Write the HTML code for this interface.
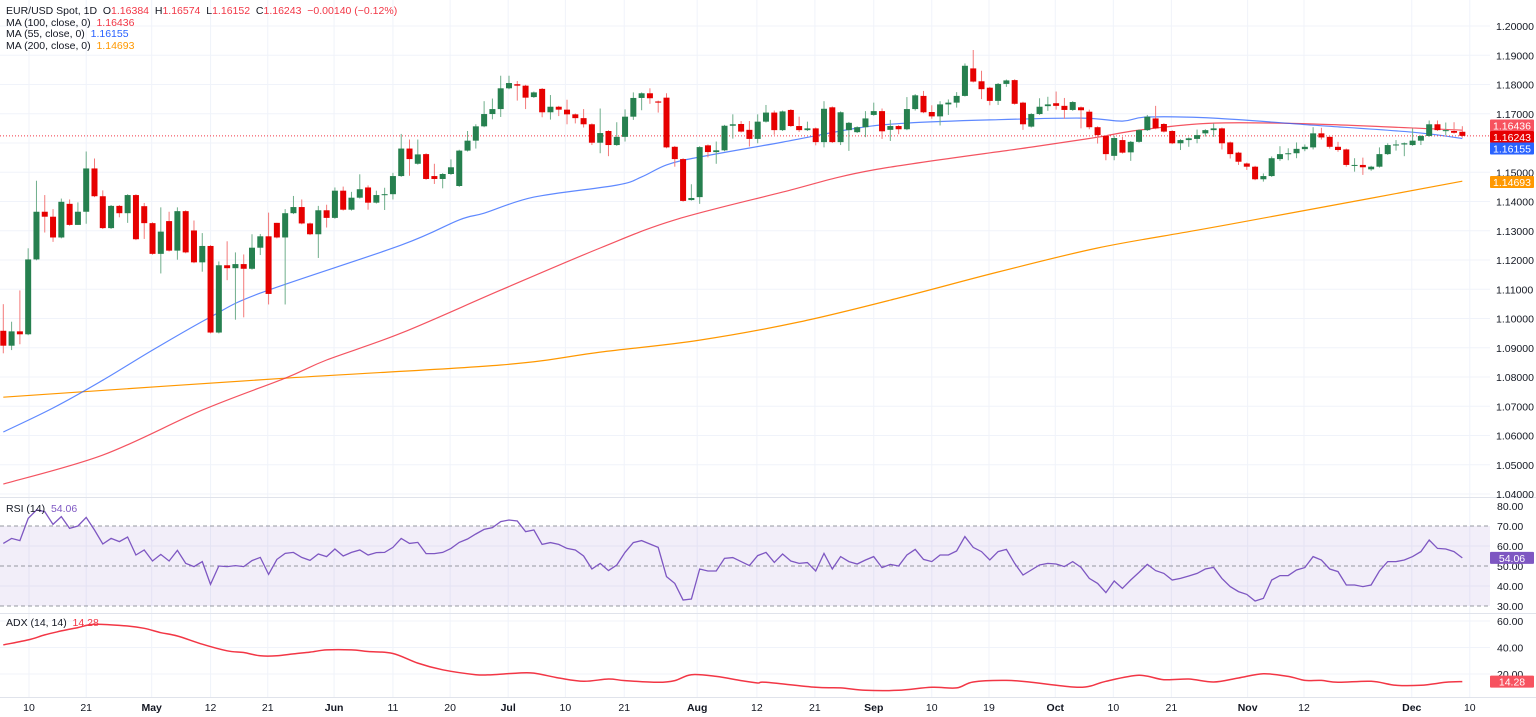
<!DOCTYPE html>
<html><head><meta charset="utf-8">
<style>
html,body{margin:0;padding:0;background:#fff;}
body{width:1536px;height:717px;overflow:hidden;position:relative;font-family:"Liberation Sans",sans-serif;}
svg{position:absolute;left:0;top:0;}
svg text{font-family:"Liberation Sans",sans-serif;}
.leg{position:absolute;left:6px;font-size:10.5px;color:#131722;white-space:nowrap;line-height:12px;}
</style></head>
<body>
<svg id="chart" width="1536" height="717" viewBox="0 0 1536 717"></svg>
<div class="leg" style="top:5px">EUR/USD Spot, 1D&nbsp; <span style="color:#131722">O</span><span style="color:#f23645">1.16384</span>&nbsp; H<span style="color:#f23645">1.16574</span>&nbsp; L<span style="color:#f23645">1.16152</span>&nbsp; C<span style="color:#f23645">1.16243</span>&nbsp; <span style="color:#f23645">−0.00140 (−0.12%)</span></div>
<div class="leg" style="top:17px">MA (100, close, 0)&nbsp; <span style="color:#f23645">1.16436</span></div>
<div class="leg" style="top:28px">MA (55, close, 0)&nbsp; <span style="color:#2962ff">1.16155</span></div>
<div class="leg" style="top:40px">MA (200, close, 0)&nbsp; <span style="color:#ff9800">1.14693</span></div>
<div class="leg" style="top:503px">RSI (14)&nbsp; <span style="color:#7e57c2">54.06</span></div>
<div class="leg" style="top:617px">ADX (14, 14)&nbsp; <span style="color:#f23645">14.28</span></div>
<script>
const opens=[1.0958,1.0907,1.0956,1.0946,1.1202,1.1365,1.1348,1.1277,1.1392,1.1320,1.1365,1.1513,1.1418,1.1309,1.1385,1.1360,1.1422,1.1384,1.1326,1.1221,1.1333,1.1232,1.1367,1.1301,1.1192,1.1248,1.0952,1.1182,1.1172,1.1186,1.1170,1.1242,1.1281,1.1327,1.1277,1.1360,1.1381,1.1325,1.1288,1.1370,1.1344,1.1437,1.1372,1.1413,1.1448,1.1396,1.1422,1.1425,1.1487,1.1581,1.1529,1.1562,1.1487,1.1477,1.1494,1.1453,1.1574,1.1608,1.1657,1.1699,1.1716,1.1787,1.1801,1.1796,1.1757,1.1785,1.1705,1.1724,1.1714,1.1698,1.1685,1.1664,1.1601,1.1641,1.1593,1.1621,1.1690,1.1754,1.1770,1.1742,1.1755,1.1587,1.1545,1.1405,1.1415,1.1592,1.1569,1.1575,1.1659,1.1665,1.1645,1.1614,1.1673,1.1704,1.1644,1.1713,1.1658,1.1644,1.1650,1.1603,1.1722,1.1603,1.1644,1.1637,1.1654,1.1696,1.1709,1.1645,1.1658,1.1647,1.1716,1.1761,1.1706,1.1691,1.1732,1.1738,1.1761,1.1855,1.1811,1.1789,1.1744,1.1802,1.1815,1.1738,1.1656,1.1699,1.1726,1.1736,1.1727,1.1713,1.1722,1.1707,1.1654,1.1624,1.1556,1.1610,1.1568,1.1604,1.1644,1.1684,1.1665,1.1641,1.1599,1.1610,1.1614,1.1633,1.1644,1.1650,1.1602,1.1567,1.1530,1.1519,1.1476,1.1487,1.1545,1.1562,1.1565,1.1579,1.1585,1.1633,1.1621,1.1587,1.1578,1.1525,1.1525,1.1510,1.1519,1.1562,1.1593,1.1595,1.1593,1.1608,1.1624,1.1664,1.1644,1.1641,1.16384];
const closes=[1.0907,1.0956,1.0946,1.1202,1.1365,1.1348,1.1277,1.1399,1.1320,1.1365,1.1513,1.1418,1.1309,1.1385,1.1360,1.1422,1.1271,1.1326,1.1221,1.1297,1.1232,1.1367,1.1226,1.1192,1.1248,1.0952,1.1182,1.1172,1.1186,1.1170,1.1242,1.1281,1.1084,1.1277,1.1360,1.1381,1.1325,1.1288,1.1370,1.1344,1.1437,1.1372,1.1413,1.1442,1.1396,1.1422,1.1425,1.1487,1.1581,1.1545,1.1561,1.1477,1.1477,1.1494,1.1517,1.1574,1.1608,1.1657,1.1699,1.1716,1.1787,1.1805,1.1796,1.1755,1.1773,1.1705,1.1724,1.1714,1.1698,1.1685,1.1664,1.1601,1.1634,1.1593,1.1621,1.1690,1.1754,1.1770,1.1753,1.1738,1.1585,1.1545,1.1402,1.1412,1.1586,1.1569,1.1575,1.1659,1.1664,1.1639,1.1614,1.1673,1.1704,1.1644,1.1708,1.1658,1.1644,1.1650,1.1603,1.1717,1.1603,1.1705,1.1669,1.1654,1.1684,1.1709,1.1640,1.1658,1.1647,1.1716,1.1763,1.1705,1.1691,1.1732,1.1738,1.1761,1.1864,1.1810,1.1784,1.1744,1.1802,1.1814,1.1734,1.1664,1.1699,1.1724,1.1732,1.1727,1.1713,1.1740,1.1712,1.1654,1.1627,1.1562,1.1617,1.1567,1.1604,1.1644,1.1690,1.1650,1.1639,1.1599,1.1610,1.1616,1.1627,1.1644,1.1650,1.1599,1.1562,1.1536,1.1519,1.1476,1.1487,1.1548,1.1562,1.1565,1.1580,1.1587,1.1633,1.1619,1.1587,1.1576,1.1525,1.1525,1.1517,1.1519,1.1562,1.1593,1.1595,1.1599,1.1608,1.1624,1.1664,1.1644,1.1644,1.1635,1.16243];
const wickUpPips=[91,33,140,38,106,57,26,11,15,32,58,34,20,3,3,3,3,11,3,83,32,13,3,34,44,3,13,82,40,33,46,8,81,0,14,38,26,3,15,19,11,14,20,51,7,15,22,11,50,31,51,3,42,3,27,3,33,7,44,36,43,25,11,3,3,3,40,3,34,3,31,3,84,3,50,25,19,3,17,3,15,3,3,47,3,3,30,3,34,10,30,25,26,7,3,3,32,23,3,26,3,3,3,3,25,29,9,21,3,41,4,17,23,11,11,13,8,63,36,3,3,3,3,3,3,29,26,40,27,3,3,7,3,3,8,11,3,3,6,43,3,3,3,3,19,3,17,3,3,3,3,3,9,6,27,17,22,8,21,19,3,17,3,23,25,3,23,6,15,3,42,3,13,13,26,30,19];
const wickDnPips=[26,15,34,3,3,54,15,3,3,0,41,3,3,3,14,33,3,54,3,67,3,31,3,3,32,3,3,41,176,166,3,25,36,3,229,3,3,3,81,33,3,3,3,3,24,3,51,18,3,57,3,3,17,32,3,3,3,27,3,18,27,3,51,39,3,17,25,22,34,18,11,8,36,38,3,16,11,42,19,34,3,26,3,2,23,18,40,3,44,3,26,15,3,16,3,3,6,3,11,18,3,10,71,3,34,3,26,38,17,3,5,3,8,31,36,17,2,3,34,15,14,10,3,19,3,3,16,13,30,3,62,7,29,21,15,3,29,3,3,3,3,3,23,23,15,11,23,21,15,11,11,3,8,3,6,21,17,7,7,7,6,6,6,23,26,5,3,3,19,40,3,15,3,3,17,3,6];
const ma55Idx=[0,6,12,18,25,31,48,55,58,64,74,77,80,84,94,103,109,119,130,135,138,146,158,170,176];
const ma55Val=[1.0612,1.0694,1.0789,1.0892,1.1005,1.1087,1.1251,1.1337,1.1360,1.1415,1.1456,1.1484,1.1525,1.1552,1.1603,1.1651,1.1668,1.1679,1.1685,1.1675,1.1689,1.1685,1.1661,1.1637,1.16155];
const ma100Idx=[0,12,24,34,39,48,60,72,81,94,105,124,132,137,146,158,176];
const ma100Val=[1.0434,1.0533,1.0687,1.0796,1.0858,1.0950,1.1097,1.1241,1.1337,1.1432,1.1508,1.1586,1.1620,1.1644,1.1668,1.1665,1.16436];
const ma200Idx=[0,34,60,72,84,96,108,120,132,144,156,176];
const ma200Val=[1.0731,1.0796,1.0841,1.0885,1.0926,1.0988,1.1070,1.1159,1.1241,1.1302,1.1364,1.14693];
const rsiVals=[61.3,63.8,62.7,73.8,78,77.2,70.8,74.7,68.8,70,74.3,68,61,63.8,62.2,64.5,55.5,58,52.5,55.8,52.5,57.8,51.3,49.7,52.2,40.8,50,49.7,50.2,49.7,52.7,54.3,45.8,53.3,56.3,56.8,54.3,52.8,56,54.7,58.5,55,56.8,58,55.5,56.7,56.8,59.3,63.8,61.3,61.8,56.2,56.2,56.8,58.8,61.8,63.5,66,68.3,69.2,72.2,73,72.5,67.2,68,60.8,61.7,60.8,58.8,58,55,48.5,51.3,47.7,50.5,56.8,61.7,62.7,61,59.3,44.7,41.3,33,33.5,48.5,47.5,47.5,53.8,54.2,52.2,50.2,55.2,56.8,51.8,56,52.5,51.3,51.7,47.5,56.3,48.5,54.7,52.2,51,53,54.7,49.2,50.8,50,55.5,58.3,53.3,52.2,55.5,55.5,57.5,64.7,59.3,57.2,53,57.2,58.3,51.3,45.5,48,50.5,51.3,51,49.7,52.2,49.3,43.8,41.3,36.7,42.5,38.8,43,46.8,50.8,47.7,46.3,43,43.8,45,46.3,48.5,49.3,43.8,39.7,37.2,35.8,32.5,33.8,43,45.2,45.2,48,49.2,54.7,53,48.5,47.2,40.5,40.5,39.7,40.5,47.5,52.2,52.2,53,54.7,57.2,63,58.8,58.5,57.2,54.06];
const adxIdx=[0,3,5,7,9,11,15,17,19,21,24,27,29,31,33,35,37,39,42,44,47,50,53,57,59,62,64,67,70,73,75,79,81,83,86,89,91,92,98,101,104,108,112,115,117,121,124,129,131,133,137,140,143,146,149,152,155,157,159,161,165,168,171,174,176];
const adxVals=[42,45.7,49.5,52.5,55,57.5,56.2,54.5,51.2,48.7,42.5,37.5,36.2,33.7,33.7,35.2,36.5,38.2,38.2,37,35.5,28.2,23.2,19.5,19.5,20.7,20.7,17,14.5,16.2,15,13.7,15,19.5,18.2,15,13.2,13.7,10,9.5,7.7,7.7,10,9.5,14,15.2,13.7,10.2,10.7,14.5,19,15.7,16.2,14,17,20.2,18.2,15.2,15.2,13.7,14.5,11.5,11.5,13.7,14.28];
const priceTicks=[1.20,1.19,1.18,1.17,1.16,1.15,1.14,1.13,1.12,1.11,1.10,1.09,1.08,1.07,1.06,1.05,1.04];
const rsiTicks=[80,70,60,50,40,30];
const adxTicks=[60,40,20];
const dateLabels=["10","21","May","12","21","Jun","11","20","Jul","10","21","Aug","12","21","Sep","10","19","Oct","10","21","Nov","12","Dec","10"];
const datePos=[3.1,10,17.9,25,31.9,39.9,47,53.9,60.9,67.8,74.9,83.7,90.9,97.9,105,112,118.9,126.9,133.9,140.9,150.1,156.9,169.9,176.9];

const NS="http://www.w3.org/2000/svg";
const svg=document.getElementById('chart');
function mk(tag,attrs,parent){const e=document.createElementNS(NS,tag);for(const k in attrs)e.setAttribute(k,attrs[k]);(parent||svg).appendChild(e);return e;}
const xS=i=>3.3+8.29*i;
const yP=p=>26+(1.2-p)*2925;
const yR=v=>566-(v-50)*2;
const yA=v=>674-(v-20)*1.325;
const PLOT_R=1490;

const grid=mk('g',{});


priceTicks.forEach(p=>mk('line',{x1:0,x2:PLOT_R,y1:yP(p),y2:yP(p),stroke:'#f0f3fa','stroke-width':1},grid));
datePos.forEach(d=>mk('line',{x1:xS(d),x2:xS(d),y1:0,y2:697,stroke:'#f0f3fa','stroke-width':1},grid));
[60,40,20].forEach(v=>mk('line',{x1:0,x2:PLOT_R,y1:yA(v),y2:yA(v),stroke:'#f0f3fa'},grid));
[60,40].forEach(v=>mk('line',{x1:0,x2:PLOT_R,y1:yR(v),y2:yR(v),stroke:'#f0f3fa'},grid));
[497,613,697].forEach(y=>{const l=mk('line',{x1:0,x2:1536,y1:y+0.5,y2:y+0.5,stroke:'#e0e3eb','stroke-width':1});});

const band=mk('rect',{x:0,y:yR(70),width:PLOT_R,height:yR(30)-yR(70),fill:'rgba(126,87,194,0.1)'});


[70,50,30].forEach(v=>{const l=mk('line',{x1:0,x2:PLOT_R,y1:yR(v),y2:yR(v),stroke:'#9598a1','stroke-dasharray':'4,3','stroke-width':1});});

function smoothLine(idx,val,yf){
  const pts=idx.map((i,k)=>[xS(i),yf(val[k])]);
  let d='M'+pts[0][0].toFixed(1)+','+pts[0][1].toFixed(1);
  for(let k=0;k<pts.length-1;k++){
    const p0=pts[Math.max(0,k-1)],p1=pts[k],p2=pts[k+1],p3=pts[Math.min(pts.length-1,k+2)];
    const c1x=p1[0]+(p2[0]-p0[0])/6,c1y=p1[1]+(p2[1]-p0[1])/6;
    const c2x=p2[0]-(p3[0]-p1[0])/6,c2y=p2[1]-(p3[1]-p1[1])/6;
    d+='C'+c1x.toFixed(1)+','+c1y.toFixed(1)+' '+c2x.toFixed(1)+','+c2y.toFixed(1)+' '+p2[0].toFixed(1)+','+p2[1].toFixed(1);
  }
  return d;
}
const m200=mk('path',{d:smoothLine(ma200Idx,ma200Val,yP),fill:'none',stroke:'#ff9800','stroke-width':1.2});


const m100=mk('path',{d:smoothLine(ma100Idx,ma100Val,yP),fill:'none',stroke:'#f23645','stroke-width':1.2,'stroke-opacity':0.85});


const m55=mk('path',{d:smoothLine(ma55Idx,ma55Val,yP),fill:'none',stroke:'#2962ff','stroke-width':1.2,'stroke-opacity':0.75});



const cp=mk('line',{x1:0,x2:PLOT_R,y1:yP(closes[closes.length-1]),y2:yP(closes[closes.length-1]),stroke:'#f23645','stroke-dasharray':'1,2','stroke-width':1});



const cg=mk('g',{});


closes.forEach((c,i)=>{
  const o=opens[i];const up=c>=o;
  const top=Math.max(o,c),bot=Math.min(o,c);
  const hi=top+wickUpPips[i]*0.0001,lo=bot-wickDnPips[i]*0.0001;
  const col=up?'#26804f':'#e60000';
  const x=xS(i);
  const w=mk('line',{x1:x,x2:x,y1:yP(hi),y2:yP(lo),stroke:up?'#6fae8b':'#f37a7a','stroke-width':1},cg);
  
  
  const h=Math.max(1,yP(bot)-yP(top));
  const b=mk('rect',{x:x-3,y:yP(top),width:6,height:h,fill:col},cg);
  
  
});

let rd='';rsiVals.forEach((v,i)=>{rd+=(i?'L':'M')+xS(i).toFixed(1)+','+yR(v).toFixed(1);});
const rl=mk('path',{d:rd,fill:'none',stroke:'#7e57c2','stroke-width':1.3});


const al=mk('path',{d:smoothLine(adxIdx,adxVals,yA),fill:'none',stroke:'#f23645','stroke-width':1.5,'stroke-linejoin':'round'});



function txt(s,x,y,attrs,name){const t=mk('text',Object.assign({x:x,y:y,'font-size':'10.5',fill:'#131722'},attrs||{}));t.textContent=s;return t;}
priceTicks.forEach(p=>txt(p.toFixed(5),1496,yP(p)+4,{},'price-tick-label'));
rsiTicks.forEach(v=>txt(v.toFixed(2),1497,yR(v)+4,{},'rsi-tick-label'));
adxTicks.forEach(v=>txt(v.toFixed(2),1497,yA(v)+4,{},'adx-tick-label'));
dateLabels.forEach((s,k)=>{const bold=isNaN(+s);txt(s,xS(datePos[k]),711,{'text-anchor':'middle','font-weight':bold?'bold':'normal'},'date-label');});

function badge(label,y,bg,name){const g=mk('g',{});mk('rect',{x:1490,y:y-6,width:44,height:12,fill:bg,rx:1},g);const t=mk('text',{x:1512,y:y+4,'font-size':'10.5',fill:'#fff','text-anchor':'middle'},g);t.textContent=label;}
badge('1.16436',125.5,'#f7525f','ma100-badge');
badge('1.16243',137,'#e60000','price-badge');
badge('1.16155',148.5,'#2962ff','ma55-badge');
badge('1.14693',182,'#ff9800','ma200-badge');
badge('54.06',yR(54.06),'#7e57c2','rsi-badge');
badge('14.28',yA(14.28),'#f7525f','adx-badge');
</script>
</body></html>
